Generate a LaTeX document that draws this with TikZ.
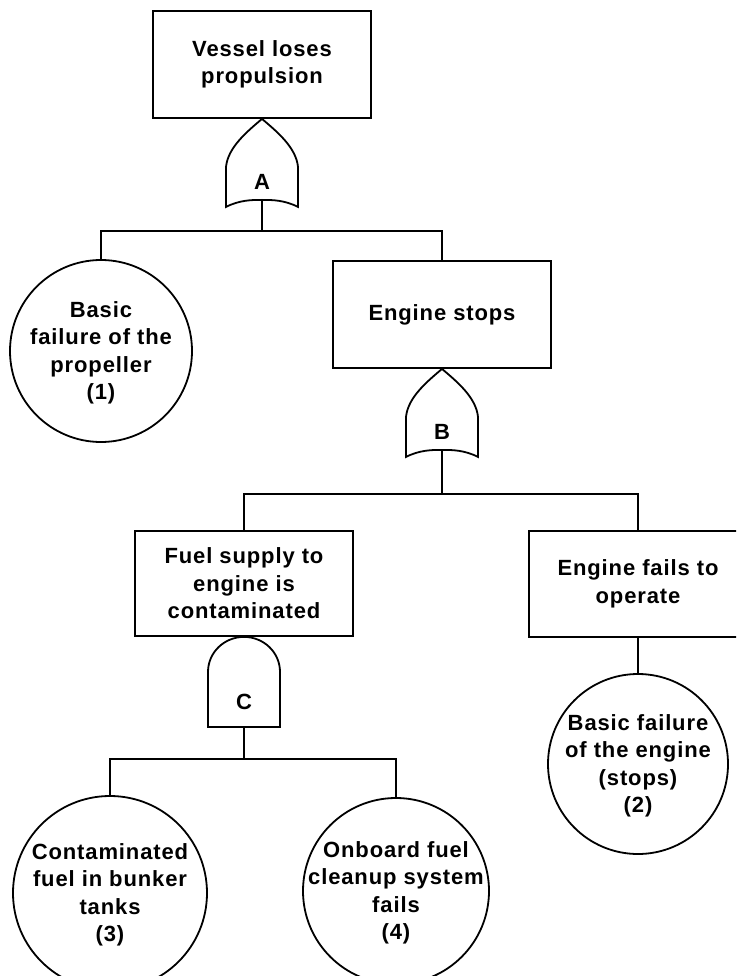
\documentclass[tikz,border=0pt]{standalone}
\usepackage{fontspec}
\setmainfont{Liberation Sans}[LetterSpace=4]
\begin{document}
\begin{tikzpicture}[x=1pt, y=-1pt, line width=1.8pt,
  every node/.style={font=\fontsize{22}{27.5}\selectfont\bfseries, align=center, inner sep=0pt},
  event/.style={draw, rectangle, minimum width=218pt, minimum height=107pt},
  basic/.style={draw, circle, inner sep=-20pt, minimum size=182pt},
  orgate/.pic={
    \draw (0,0) .. controls (-14,12) and (-34,28) .. (-36,48) -- (-36,88)
      .. controls (-22,81) and (-10,81) .. (0,81)
      .. controls (10,81) and (22,81) .. (36,88) -- (36,48)
      .. controls (34,28) and (14,12) .. (0,0) -- cycle;
    \node (-label) at (0,63) {#1};
    \coordinate (-out) at (0,81);
  },
  andgate/.pic={
    \draw (-36,90) -- (-36,35) arc[start angle=180, end angle=360, x radius=36, y radius=35]
      -- (36,90) -- cycle;
    \node (-label) at (0,65) {#1};
    \coordinate (-out) at (0,90);
  }]
\useasboundingbox (0,0) rectangle (736,976);
\clip (0,0) rectangle (736,976);

% events
\node[event] (top) at (262,64.5) {Vessel loses\\propulsion};
\node[event] (es) at (442,314.5) {Engine stops};
\node[event, minimum height=105pt] (fs) at (244,583.5) {Fuel supply to\\engine is\\contaminated};
\node[event, minimum height=106pt] (ef) at (638,584) {Engine fails to\\operate};

% basic failures
\node[basic] (b1) at (101,351) {\strut Basic\\failure of the\\propeller\\(1)};
\node[basic, minimum size=180pt] (b2) at (638,764) {\strut Basic failure\\of the engine\\(stops)\\(2)};
\node[basic, minimum size=194pt] (b3) at (110,893) {\strut Contaminated\\fuel in bunker\\tanks\\(3)};
\node[basic, minimum size=186pt] (b4) at (396,891) {\strut Onboard fuel\\cleanup system\\fails\\(4)};

% gates
\pic (gA) at (top.south) {orgate=A};
\pic (gB) at (es.south) {orgate=B};
\pic (gC) at (fs.south) {andgate=C};

% junctions below the gates
\coordinate (jA) at (262,231);
\coordinate (jB) at (442,494);
\coordinate (jC) at (244,759);

% connectors
\draw (gA-out) -- (jA);
\draw (b1.north) |- (jA) -| (es.north);
\draw (gB-out) -- (jB);
\draw (fs.north) |- (jB) -| (ef.north);
\draw (ef.south) -- (b2.north);
\draw (gC-out) -- (jC);
\draw (b3.north) |- (jC) -| (b4.north);
\end{tikzpicture}
\end{document}
